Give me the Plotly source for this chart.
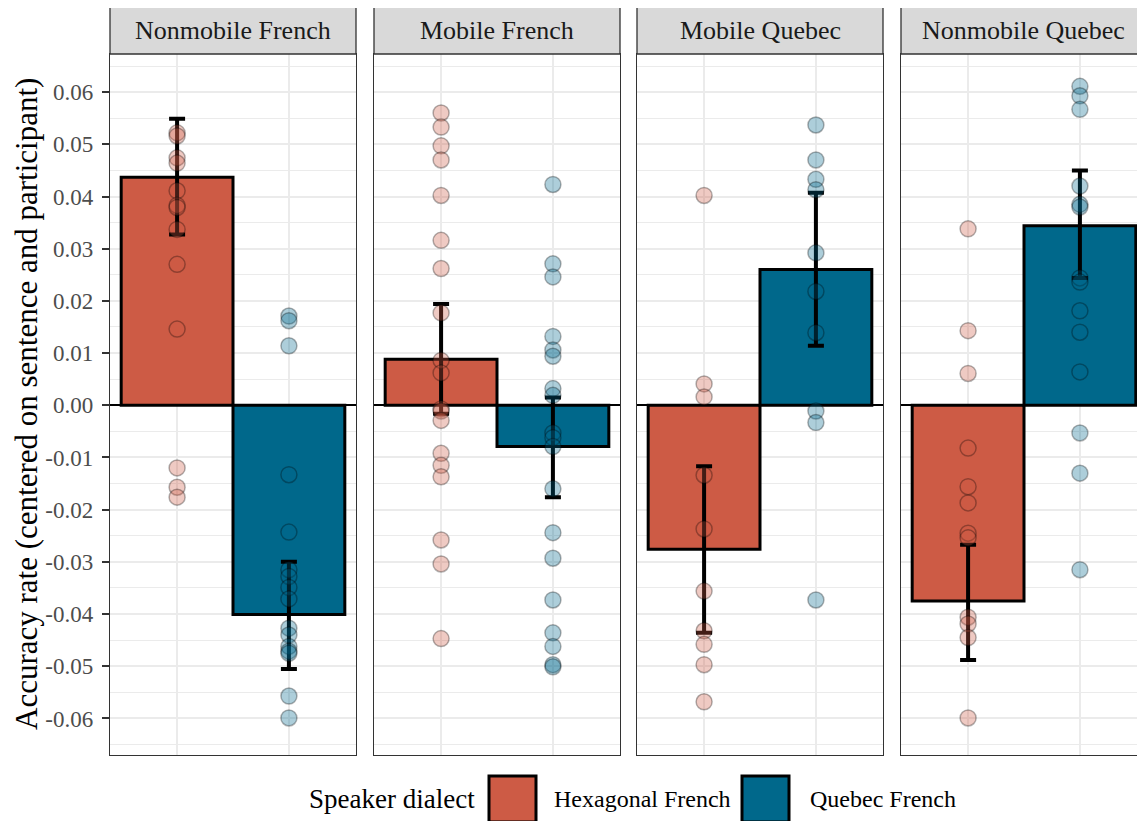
import plotly.graph_objects as go

# ---------------- data ----------------
panels = ["Nonmobile French", "Mobile French", "Mobile Quebec", "Nonmobile Quebec"]
dialects = ["Hexagonal French", "Quebec French"]

hex_mean = [0.0437, 0.0088, -0.0276, -0.0375]
hex_hi = [0.0549, 0.0194, -0.0117, -0.0267]
hex_lo = [0.0327, -0.0016, -0.0436, -0.0488]

que_mean = [-0.0401, -0.0079, 0.0260, 0.0344]
que_hi = [-0.0300, 0.0015, 0.0407, 0.0450]
que_lo = [-0.0505, -0.0176, 0.0114, 0.0244]

pts_nonmob_french_hex = [0.0522, 0.0516, 0.0474, 0.0464, 0.0411, 0.0383, 0.0379, 0.0337,
                         0.0270, 0.0146, -0.0120, -0.0157, -0.0176]
pts_nonmob_french_que = [0.0171, 0.0162, 0.0114, -0.0133, -0.0243, -0.0315, -0.0328, -0.0349,
                         -0.0371, -0.0427, -0.0440, -0.0462, -0.0471, -0.0475, -0.0557, -0.0599]
pts_mob_french_hex = [0.0560, 0.0533, 0.0497, 0.0470, 0.0402, 0.0316, 0.0262, 0.0177, 0.0086,
                      0.0062, -0.0007, -0.0011, -0.0029, -0.0092, -0.0115, -0.0137, -0.0258,
                      -0.0304, -0.0447]
pts_mob_french_que = [0.0423, 0.0271, 0.0246, 0.0132, 0.0106, 0.0094, 0.0032, 0.0019, -0.0053,
                      -0.0062, -0.0079, -0.0160, -0.0244, -0.0293, -0.0373, -0.0436, -0.0462,
                      -0.0497, -0.0501]
pts_mob_quebec_hex = [0.0402, 0.0041, 0.0016, -0.0134, -0.0237, -0.0356, -0.0432, -0.0458,
                      -0.0497, -0.0568]
pts_mob_quebec_que = [0.0537, 0.0470, 0.0433, 0.0413, 0.0292, 0.0218, 0.0139, -0.0011,
                      -0.0033, -0.0373]
pts_nonmob_quebec_hex = [0.0338, 0.0143, 0.0061, -0.0082, -0.0156, -0.0187, -0.0245, -0.0254,
                         -0.0406, -0.0419, -0.0445, -0.0599]
pts_nonmob_quebec_que = [0.0611, 0.0593, 0.0567, 0.0420, 0.0385, 0.0380, 0.0244, 0.0236,
                         0.0181, 0.0140, 0.0064, -0.0053, -0.0130, -0.0315]

hex_points = [pts_nonmob_french_hex, pts_mob_french_hex, pts_mob_quebec_hex, pts_nonmob_quebec_hex]
que_points = [pts_nonmob_french_que, pts_mob_french_que, pts_mob_quebec_que, pts_nonmob_quebec_que]

y_tick_vals = [-0.06, -0.05, -0.04, -0.03, -0.02, -0.01, 0.0, 0.01, 0.02, 0.03, 0.04, 0.05, 0.06]
y_tick_text = ["-0.06", "-0.05", "-0.04", "-0.03", "-0.02", "-0.01", "0.00",
               "0.01", "0.02", "0.03", "0.04", "0.05", "0.06"]
y_title = "Accuracy rate (centered on sentence and participant)"
legend_title = "Speaker dialect"

# ---------------- style / layout (page pixels of the 1145x821 view) ----------------
FONT = "Liberation Serif"
HEX_COL = "#CD5B45"
QUE_COL = "#00688B"
HEX_PT = "rgba(205,91,69,0.32)"
QUE_PT = "rgba(0,104,139,0.32)"
OFF = 8                       # default page body margin
W, H = 1145 - OFF, 821 - OFF  # figure size so the page fits the view
L, T = 110 - OFF, 54 - OFF    # plot area left / top
R = 0
B = H - (755 - OFF)
PW, PH = W - L - R, H - T - B
panel_px = [(110, 356), (374, 620), (637, 883), (901, 1147)]
VIEW_RIGHT = 1145
Y_RANGE = [-0.0670, 0.0673]


def fx(p):
    return (p - OFF - L) / PW


def fy(p):
    return (H - B - (p - OFF)) / PH


fig = go.Figure()
layout = dict(
    width=W, height=H,
    margin=dict(l=L, r=R, t=T, b=B, pad=0),
    paper_bgcolor="white", plot_bgcolor="white",
    showlegend=False, barmode="overlay",
    font=dict(family=FONT, color="#1A1A1A"),
)

shapes, annotations = [], []
for i, name in enumerate(panels):
    n = "" if i == 0 else str(i + 1)
    xa, ya = "x" + n, "y" + n
    x0p, x1p = panel_px[i]
    vis1 = min(x1p, VIEW_RIGHT)
    xr_hi = 0.4 + 2.2 * (vis1 - x0p) / (x1p - x0p)
    layout["xaxis" + n] = dict(
        domain=[fx(x0p), min(1.0, fx(vis1))],
        range=[0.4, xr_hi], anchor=ya,
        tickmode="array", tickvals=[1, 2], showticklabels=False, ticks="",
        showgrid=True, gridcolor="#EBEBEB", gridwidth=2,
        showline=True, linecolor="#333333", linewidth=1.3, mirror=True,
        zeroline=False, fixedrange=True,
    )
    layout["yaxis" + n] = dict(
        domain=[0, 1], range=Y_RANGE, anchor=xa,
        tickmode="array", tickvals=y_tick_vals, ticktext=y_tick_text,
        showticklabels=(i == 0), ticks="outside" if i == 0 else "",
        ticklen=7, tickwidth=1.5, tickcolor="#333333", ticklabelstandoff=4,
        tickfont=dict(family=FONT, size=23, color="#4D4D4D"),
        showgrid=True, gridcolor="#EBEBEB", gridwidth=2,
        minor=dict(dtick=0.005, tick0=0, showgrid=True, gridcolor="#EBEBEB", gridwidth=1.2),
        showline=True, linecolor="#333333", linewidth=1.3, mirror=True,
        zeroline=True, zerolinecolor="black", zerolinewidth=1.6,
    )

    means = [hex_mean[i], que_mean[i]]
    his = [hex_hi[i], que_hi[i]]
    los = [hex_lo[i], que_lo[i]]
    fig.add_trace(go.Bar(
        x=[1, 2], y=means, width=1.0, xaxis=xa, yaxis=ya,
        marker=dict(color=[HEX_COL, QUE_COL], line=dict(color="black", width=3)),
        error_y=dict(type="data", symmetric=False,
                     array=[h - m for h, m in zip(his, means)],
                     arrayminus=[m - l for m, l in zip(means, los)],
                     color="black", thickness=4, width=8),
        hoverinfo="skip",
    ))
    fig.add_trace(go.Scatter(
        x=[1] * len(hex_points[i]), y=hex_points[i], mode="markers", xaxis=xa, yaxis=ya,
        marker=dict(size=16, color=HEX_PT, line=dict(color="rgba(0,0,0,0.3)", width=1.5)),
        name=dialects[0], cliponaxis=False,
    ))
    fig.add_trace(go.Scatter(
        x=[2] * len(que_points[i]), y=que_points[i], mode="markers", xaxis=xa, yaxis=ya,
        marker=dict(size=16, color=QUE_PT, line=dict(color="rgba(0,0,0,0.3)", width=1.5)),
        name=dialects[1], cliponaxis=False,
    ))

    # facet strip
    shapes.append(dict(type="rect", xref=xa + " domain", yref="paper",
                       x0=0, x1=1, y0=1, y1=fy(7),
                       fillcolor="#D9D9D9", line=dict(color="#333333", width=1.3), layer="above"))
    annotations.append(dict(text=name, xref=xa + " domain", yref="paper", x=0.5, y=fy(31),
                            xanchor="center", yanchor="middle", showarrow=False,
                            font=dict(family=FONT, size=26, color="#1A1A1A")))

# y-axis title
annotations.append(dict(text=y_title, xref="paper", yref="paper", x=fx(26), y=fy(404),
                        textangle=-90, xanchor="center", yanchor="middle", showarrow=False,
                        font=dict(family=FONT, size=31, color="black")))

# legend (drawn manually to match the key size)
leg_y = 799
annotations.append(dict(text=legend_title, xref="paper", yref="paper", x=fx(307), y=fy(leg_y),
                        xanchor="left", yanchor="middle", showarrow=False,
                        font=dict(family=FONT, size=27, color="black")))
for col, lab, bx, tx in [(HEX_COL, dialects[0], 489, 552), (QUE_COL, dialects[1], 742, 808)]:
    shapes.append(dict(type="rect", xref="paper", yref="paper",
                       x0=fx(bx), x1=fx(bx + 47), y0=fy(822), y1=fy(776),
                       fillcolor=col, line=dict(color="black", width=3)))
    annotations.append(dict(text=lab, xref="paper", yref="paper", x=fx(tx), y=fy(leg_y),
                            xanchor="left", yanchor="middle", showarrow=False,
                            font=dict(family=FONT, size=24, color="black")))

layout["shapes"] = shapes
layout["annotations"] = annotations
fig.update_layout(**layout)
fig.write_html("out.html")
